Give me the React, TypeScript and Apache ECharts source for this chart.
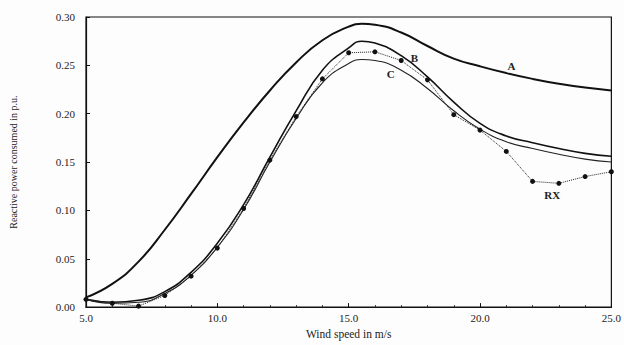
import React, { useEffect, useRef } from "react";
import * as echarts from "echarts";

const curveX = [5, 6, 7, 8, 9, 10, 11, 12, 13, 14, 15, 15.5, 16, 17, 18, 19, 20, 21, 22, 23, 24, 25];
const curveA = [0.010, 0.024, 0.047, 0.080, 0.117, 0.155, 0.191, 0.224, 0.253, 0.276, 0.290, 0.293, 0.292, 0.284, 0.270, 0.257, 0.249, 0.242, 0.236, 0.231, 0.227, 0.224];
const curveB = [0.008, 0.005, 0.007, 0.016, 0.036, 0.066, 0.106, 0.155, 0.203, 0.245, 0.268, 0.275, 0.273, 0.260, 0.238, 0.212, 0.190, 0.177, 0.170, 0.164, 0.159, 0.156];
const curveC = [0.008, 0.004, 0.005, 0.014, 0.033, 0.062, 0.101, 0.150, 0.195, 0.232, 0.252, 0.256, 0.255, 0.245, 0.226, 0.203, 0.184, 0.171, 0.164, 0.158, 0.153, 0.150];
const rxX = [5, 6, 7, 8, 9, 10, 11, 12, 13, 14, 15, 16, 17, 18, 19, 20, 21, 22, 23, 24, 25];
const rxY = [0.008, 0.004, 0.001, 0.012, 0.032, 0.061, 0.102, 0.152, 0.197, 0.236, 0.263, 0.264, 0.255, 0.235, 0.199, 0.183, 0.161, 0.130, 0.128, 0.135, 0.140];

const curveLabels = [
  { name: "A", x: 21.2, y: 0.249 },
  { name: "B", x: 17.5, y: 0.258 },
  { name: "C", x: 16.6, y: 0.241 },
  { name: "RX", x: 22.75, y: 0.116 },
];

const FONT = "'Liberation Serif', 'DejaVu Serif', serif";

export default function App() {
  const ref = useRef<HTMLDivElement>(null);
  useEffect(() => {
    if (!ref.current) return;
    const chart = echarts.init(ref.current, null, { renderer: "svg" });
    const pairs = (xs: number[], ys: number[]) => xs.map((x, i) => [x, ys[i]]);
    chart.setOption({
      animation: false,
      backgroundColor: "#fdfdfd",
      grid: { left: 83, right: 12, top: 17, bottom: 35, show: true, borderColor: "#111", borderWidth: 1.2 },
      xAxis: {
        type: "value",
        min: 5,
        max: 25,
        interval: 5,
        name: "Wind speed in m/s",
        nameLocation: "middle",
        nameGap: 20,
        nameTextStyle: { fontFamily: FONT, fontSize: 11.5, color: "#222" },
        axisLine: { lineStyle: { color: "#111", width: 1.2 } },
        axisTick: { inside: true, length: 4, lineStyle: { color: "#111" } },
        minorTick: { show: true, splitNumber: 5, length: 2, lineStyle: { color: "#333" } },
        splitLine: { show: false },
        axisLabel: { formatter: (v: number) => v.toFixed(1), fontFamily: FONT, fontSize: 11, color: "#222", margin: 5 },
      },
      yAxis: {
        type: "value",
        min: 0,
        max: 0.3,
        interval: 0.05,
        name: "Reactive power consumed in p.u.",
        nameLocation: "middle",
        nameGap: 68,
        nameTextStyle: { fontFamily: FONT, fontSize: 10, color: "#222" },
        axisLine: { show: true, lineStyle: { color: "#111", width: 1.2 } },
        axisTick: { show: true, inside: true, length: 4, lineStyle: { color: "#111" } },
        splitLine: { show: false },
        axisLabel: { formatter: (v: number) => v.toFixed(2), fontFamily: FONT, fontSize: 11, color: "#222", margin: 11 },
      },
      series: [
        {
          name: "A",
          type: "line",
          smooth: 0.5,
          symbol: "none",
          data: pairs(curveX, curveA),
          lineStyle: { color: "#111", width: 2 },
          markPoint: {
            symbol: "circle",
            symbolSize: 0,
            data: curveLabels.map((l) => ({
              coord: [l.x, l.y],
              label: { show: true, formatter: l.name, fontFamily: FONT, fontSize: 11, fontWeight: "bold", color: "#222" },
            })),
          },
        },
        {
          name: "B",
          type: "line",
          smooth: 0.5,
          symbol: "none",
          data: pairs(curveX, curveB),
          lineStyle: { color: "#111", width: 1.6 },
        },
        {
          name: "C",
          type: "line",
          smooth: 0.5,
          symbol: "none",
          data: pairs(curveX, curveC),
          lineStyle: { color: "#222", width: 1.1 },
        },
        {
          name: "RX",
          type: "line",
          symbol: "circle",
          symbolSize: 5,
          itemStyle: { color: "#111" },
          data: pairs(rxX, rxY),
          lineStyle: { color: "#222", width: 1, type: "dotted" },
        },
      ],
    });
    return () => chart.dispose();
  }, []);
  return <div ref={ref} style={{ width: 624, height: 345, position: "absolute", left: 0, top: 0 }} />;
}
